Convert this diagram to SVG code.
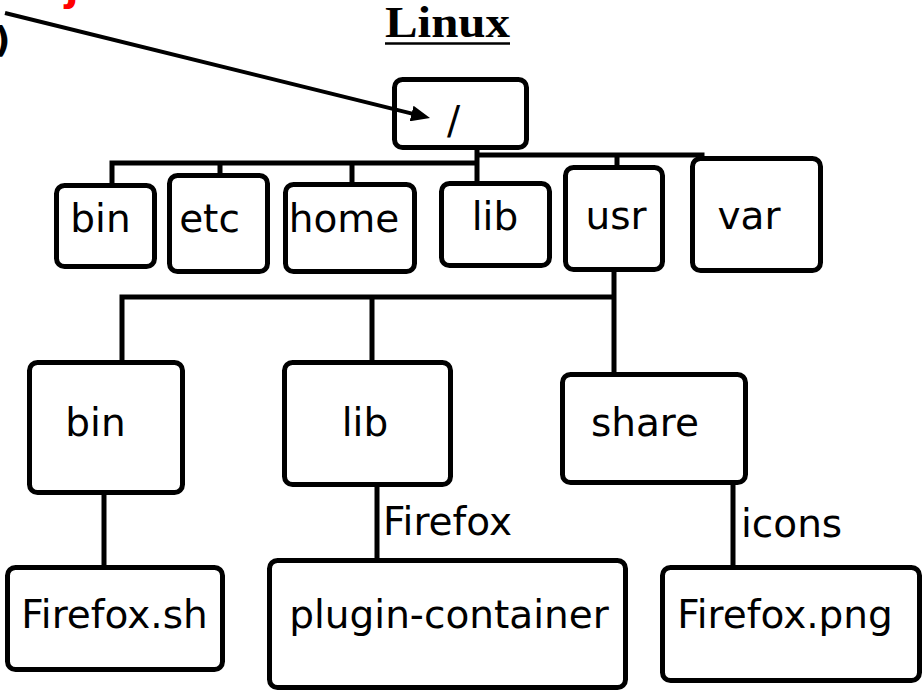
<svg xmlns="http://www.w3.org/2000/svg" width="922" height="693" viewBox="0 0 922 693">
<defs>
<style>
.box{fill:#fff;stroke:#000;stroke-width:5}
.t{font-family:"DejaVu Sans","Liberation Sans",sans-serif;font-size:39px;fill:#000;text-anchor:middle}
.lbl{font-family:"DejaVu Sans","Liberation Sans",sans-serif;font-size:39px;fill:#000;text-anchor:start}
.c{fill:none;stroke:#000;stroke-width:5;stroke-linecap:square}
</style>
<marker id="ah" markerUnits="userSpaceOnUse" markerWidth="19" markerHeight="16" refX="13" refY="8" orient="auto">
<path d="M0,0 L19,8 L0,16 z" fill="#000"/>
</marker>
</defs>
<rect width="922" height="693" fill="#fff"/>

<text x="65" y="0" font-family="DejaVu Sans, sans-serif" font-weight="bold" font-size="40" fill="#f00">j</text>
<text x="-6" y="52" font-family="DejaVu Sans, sans-serif" font-weight="bold" font-size="36" fill="#000">)</text>

<g id="title">
<text x="385" y="37" font-family="Liberation Serif, serif" font-weight="bold" font-size="44" textLength="125" lengthAdjust="spacingAndGlyphs">Linux</text>
<line x1="385" y1="43.5" x2="510" y2="43.5" stroke="#000" stroke-width="2.5"/>
</g>

<g id="root"><rect class="box" x="394.5" y="79.5" width="132" height="68" rx="8"/><text class="t" x="453.5" y="134">/</text></g>
<g id="bin"><rect class="box" x="56.5" y="185.5" width="98" height="81" rx="8"/><text class="t" x="100.5" y="232">bin</text></g>
<g id="etc"><rect class="box" x="169.5" y="175.5" width="98" height="96" rx="8"/><text class="t" x="209.5" y="232">etc</text></g>
<g id="home"><rect class="box" x="285.5" y="184.5" width="129" height="87" rx="8"/><text class="t" x="344" y="232">home</text></g>
<g id="lib"><rect class="box" x="441.5" y="183.5" width="108" height="82" rx="8"/><text class="t" x="495" y="230">lib</text></g>
<g id="usr"><rect class="box" x="565.5" y="167.5" width="97" height="102" rx="8"/><text class="t" x="616" y="229">usr</text></g>
<g id="var"><rect class="box" x="692.5" y="158.5" width="128" height="112" rx="8"/><text class="t" x="749" y="229">var</text></g>

<g id="usr-bin"><rect class="box" x="29.5" y="362.5" width="153" height="130" rx="8"/><text class="t" x="95.5" y="436">bin</text></g>
<g id="usr-lib"><rect class="box" x="284.5" y="362.5" width="166" height="122" rx="8"/><text class="t" x="365" y="436">lib</text></g>
<g id="usr-share"><rect class="box" x="562.5" y="374.5" width="183" height="108" rx="8"/><text class="t" x="645" y="436">share</text></g>

<g id="firefox-sh"><rect class="box" x="7.5" y="567.5" width="215" height="102" rx="8"/><text class="t" x="114.5" y="628">Firefox.sh</text></g>
<g id="plugin-container"><rect class="box" x="269.5" y="560.5" width="356" height="127" rx="8"/><text class="t" x="449" y="628">plugin-container</text></g>
<g id="firefox-png"><rect class="box" x="662.5" y="567.5" width="257" height="113" rx="8"/><text class="t" x="785" y="628">Firefox.png</text></g>

<g id="connectors">
<path class="c" d="M112,163 H477 M112,163 V183 M220,163 V173 M352,163 V182 M477,150 V181 M477,155 H702 M617,155 V165"/>
<path class="c" d="M614,272 V372 M122,297 H614 M122,297 V360 M372,297 V360"/>
<path class="c" d="M104,495 V565 M377,487 V558 M733,485 V565"/>
<line x1="5" y1="13" x2="424.2" y2="116.6" stroke="#000" stroke-width="4" marker-end="url(#ah)"/>
<text class="lbl" x="383" y="535">Firefox</text>
<text class="lbl" x="741" y="537">icons</text>
</g>
</svg>
